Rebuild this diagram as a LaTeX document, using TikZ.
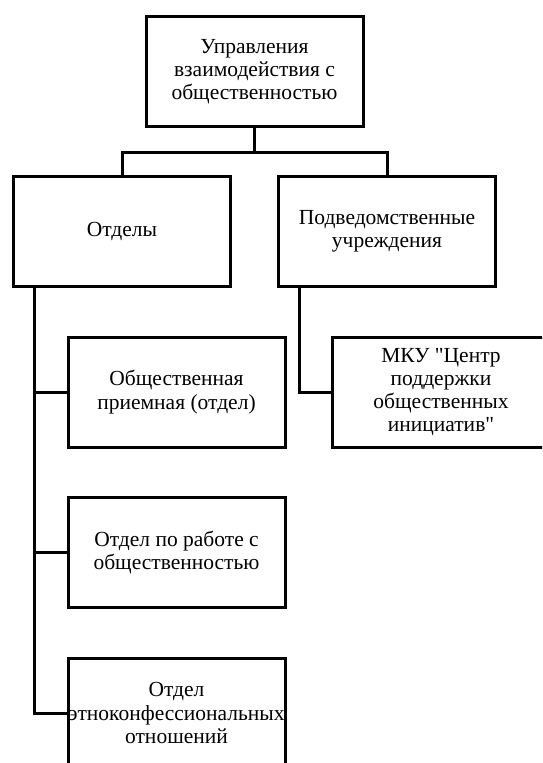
\documentclass[tikz,border=0pt]{standalone}
\usepackage{fontspec}
\setmainfont{Liberation Serif}
\begin{document}
\begin{tikzpicture}[x=1pt,y=-1pt,
  box/.style={draw,line width=3pt,minimum width=217pt,minimum height=110pt,
    align=center,inner sep=0pt,font=\fontsize{21.5}{23.3}\selectfont},
  conn/.style={line width=3pt}]
\useasboundingbox (0,0) rectangle (542,763);
\fill[white] (0,0) rectangle (542,763);
\clip (0,0) rectangle (542,763);
\node[box] (top) at (254.5,71.5) {Управления\\взаимодействия с\\общественностью};
\node[box] (otd) at (122,231) {Отделы};
\node[box] (pod) at (387,231) {Подведомственные\\учреждения};
\node[box] (c1) at (176.5,392) {Общественная\\приемная (отдел)};
\node[box] (c2) at (176.5,552.5) {Отдел по работе с\\общественностью};
\node[box] (c3) at (176.5,713) {Отдел\\этноконфессиональных\\отношений};
\node[box] (mku) at (441,392) {МКУ \textquotedbl Центр\\поддержки\\общественных\\инициатив\textquotedbl};
\coordinate (split) at ([yshift=-24pt]top.south);
\draw[conn] (top.south) -- (split) -| (otd.north);
\draw[conn] (split) -| (pod.north);
\coordinate (ltr) at ([xshift=22pt]otd.south west);
\coordinate (rtr) at ([xshift=22pt]pod.south west);
\draw[conn] (ltr) |- (c3.west);
\draw[conn] (c1.west) -- (c1.west -| ltr);
\draw[conn] (c2.west) -- (c2.west -| ltr);
\draw[conn] (rtr) |- (mku.west);
\end{tikzpicture}
\end{document}
